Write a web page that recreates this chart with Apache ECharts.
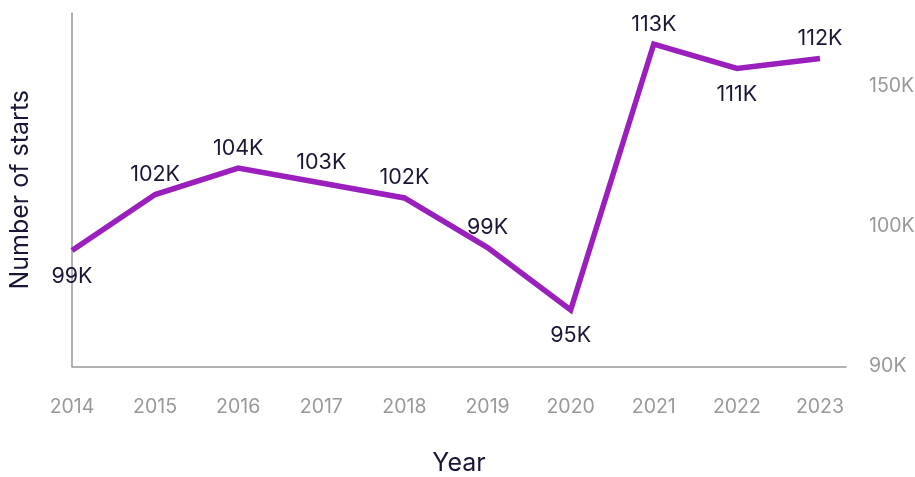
<!DOCTYPE html>
<html>
<head>
<meta charset="utf-8">
<script src="https://cdn.jsdelivr.net/npm/echarts@6/dist/echarts.min.js"></script>
<style>
html,body{margin:0;padding:0;background:#fff;}
#chart{width:915px;height:477px;}
</style>
</head>
<body>
<div id="chart"></div>
<script>
// Data
const years = [2014, 2015, 2016, 2017, 2018, 2019, 2020, 2021, 2022, 2023];
const starts = [98620, 102400, 104190, 103180, 102170, 98820, 94600, 112570, 110920, 111590];
const labelSides = ['bottom', 'top', 'top', 'top', 'top', 'top', 'bottom', 'top', 'bottom', 'top'];
const rightTickLabels = ['90K', '100K', '150K'];

const FONT = 'Inter, "Noto Sans", sans-serif';
const DARK = '#1d1535';
const GRAY = '#999999';
const PURPLE = '#9b1fbd';

const chart = echarts.init(document.getElementById('chart'), null, {renderer: 'canvas'});

const seriesData = years.map((y, i) => ({
  value: [y, starts[i]],
  label: {
    position: labelSides[i],
    distance: labelSides[i] === 'top' ? 9 : 15
  }
}));

chart.setOption({
  animation: false,
  grid: {left: 72, right: 69, top: 13, bottom: 110.5, containLabel: false, outerBoundsMode: 'none'},
  xAxis: {
    type: 'value',
    min: 2014,
    max: 2023.313,
    interval: 1,
    name: 'Year',
    nameLocation: 'middle',
    nameGap: 84,
    nameTextStyle: {color: DARK, fontSize: 25, fontFamily: FONT},
    axisLine: {show: true, lineStyle: {color: GRAY, width: 1.5}},
    axisTick: {show: false},
    splitLine: {show: false},
    axisLabel: {
      color: GRAY, fontSize: 19.5, fontFamily: FONT, margin: 31,
      formatter: v => (Math.abs(v - Math.round(v)) < 1e-6 ? String(Math.round(v)) : '')
    }
  },
  yAxis: [
    {
      type: 'value',
      position: 'left',
      min: 90782,
      max: 114668,
      name: 'Number of starts',
      nameLocation: 'middle',
      nameGap: 39,
      nameRotate: 90,
      nameTextStyle: {color: DARK, fontSize: 25, fontFamily: FONT},
      axisLine: {show: true, lineStyle: {color: GRAY, width: 1.5}},
      axisTick: {show: false},
      axisLabel: {show: false},
      splitLine: {show: false}
    },
    {
      type: 'value',
      position: 'right',
      min: 0,
      max: 2.525,
      interval: 1,
      axisLine: {show: false},
      axisTick: {show: false},
      splitLine: {show: false},
      axisLabel: {
        color: GRAY, fontSize: 19.5, fontFamily: FONT, margin: 23,
        formatter: v => {
          const r = Math.round(v);
          return Math.abs(v - r) < 1e-6 && rightTickLabels[r] ? rightTickLabels[r] : '';
        }
      }
    }
  ],
  series: [{
    type: 'line',
    yAxisIndex: 0,
    data: seriesData,
    symbol: 'circle',
    symbolSize: 0.01,
    showSymbol: true,
    itemStyle: {color: 'rgba(0,0,0,0)'},
    lineStyle: {color: PURPLE, width: 5.5, join: 'miter'},
    label: {
      show: true,
      color: DARK,
      fontSize: 21.5,
      fontFamily: FONT,
      formatter: p => Math.round(p.value[1] / 1000) + 'K'
    }
  }]
});
</script>
</body>
</html>
